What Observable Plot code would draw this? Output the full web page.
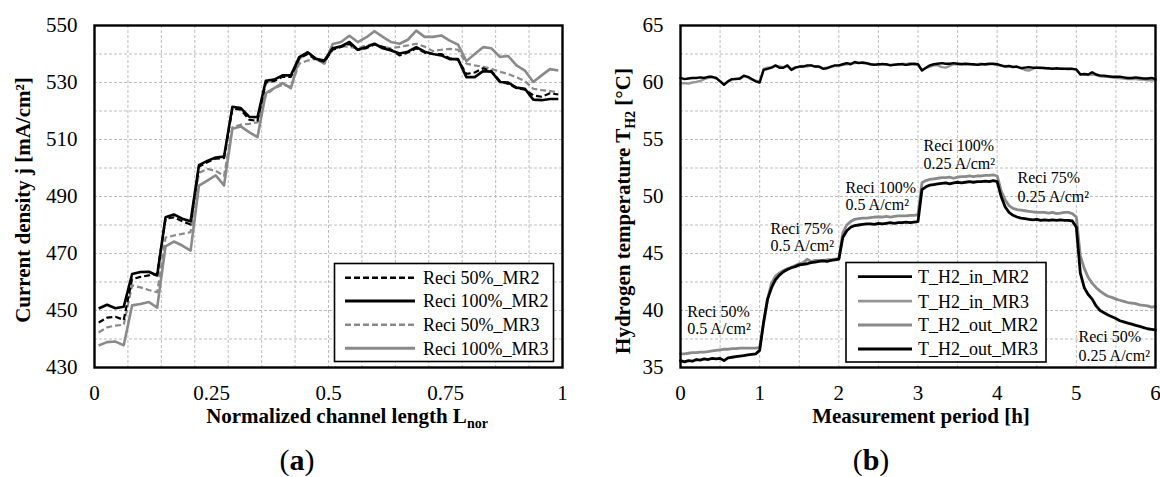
<!DOCTYPE html>
<html><head><meta charset="utf-8">
<script src="https://cdn.jsdelivr.net/npm/d3@7"></script>
<script src="https://cdn.jsdelivr.net/npm/@observablehq/plot@0.6"></script>
<style>
body{margin:0;background:#fff;}
#wrap{position:relative;width:1160px;height:477px;overflow:hidden;background:#fff;font-family:"Liberation Serif","Times New Roman",serif;}
.panel{position:absolute;top:0;}
</style></head>
<body><div id="wrap"><div id="pa" class="panel" style="left:0"></div><div id="pb" class="panel" style="left:580px"></div></div>
<script>
// ---------- Panel (a): current density along the channel ----------
const segmentsA = 14;           // channel cells (one per vertical grid line)
const pointsPerSegment = 4;
const channelPos = d3.range(segmentsA * pointsPerSegment).map(i => (i + 0.5) / (segmentsA * pointsPerSegment));

const reci50_MR2 = [
  445.8, 447.5, 447.8, 446.7,  461.0, 461.8, 462.3, 462.8,  482.2, 482.7, 481.3, 480.2,
  500.5, 502.0, 503.3, 503.5,  520.8, 520.5, 517.0, 516.5,  530.0, 530.5, 532.0, 532.0,
  538.5, 540.0, 538.0, 537.3,  541.5, 542.5, 543.5, 541.5,  542.0, 543.4, 542.5, 541.5,
  539.5, 540.5, 542.0, 540.5,  540.0, 540.0, 538.5, 538.0,  533.0, 533.5, 535.0, 534.0,
  530.5, 529.5, 528.0, 527.5,  525.5, 525.0, 526.2, 525.8];
const reci100_MR2 = [
  450.7, 452.0, 450.8, 451.3,  462.8, 463.5, 463.6, 462.3,  482.7, 483.7, 482.2, 481.3,
  501.0, 502.5, 503.7, 504.0,  521.5, 521.0, 518.0, 517.8,  530.6, 531.0, 532.5, 532.5,
  538.9, 540.6, 538.3, 537.7,  542.0, 542.7, 544.2, 541.5,  542.4, 543.6, 542.0, 541.2,
  540.2, 540.8, 542.4, 540.8,  540.0, 539.5, 538.2, 538.2,  531.9, 531.9, 534.0, 533.8,
  530.2, 530.0, 528.2, 527.8,  524.0, 523.8, 524.2, 524.2];
const reci50_MR3 = [
  442.3, 444.1, 444.7, 445.0,  458.8, 458.1, 457.2, 456.4,  475.6, 476.3, 476.9, 477.5,
  498.3, 499.7, 499.0, 497.2,  514.3, 515.2, 515.5, 516.0,  525.5, 528.0, 529.2, 528.5,
  536.6, 537.7, 538.3, 537.5,  541.5, 542.8, 542.5, 542.0,  543.0, 543.5, 542.5, 542.0,
  542.5, 543.0, 543.6, 542.6,  541.0, 541.5, 541.8, 541.5,  536.6, 536.0, 535.5, 534.8,
  533.8, 533.0, 531.8, 530.5,  527.8, 527.3, 527.0, 526.6];
const reci100_MR3 = [
  437.7, 438.9, 439.1, 437.8,  451.8, 452.3, 453.0, 451.0,  472.5, 474.2, 472.8, 471.0,
  493.8, 495.6, 497.4, 493.9,  513.8, 514.6, 512.6, 510.8,  526.3, 528.0, 529.8, 528.0,
  538.3, 540.6, 538.3, 536.6,  543.5, 544.2, 546.4, 544.2,  545.8, 548.0, 546.0, 544.2,
  543.6, 545.0, 548.2, 546.0,  546.0, 546.5, 544.7, 543.3,  537.5, 540.0, 542.4, 542.0,
  539.0, 539.3, 536.0, 534.2,  530.2, 532.5, 534.7, 534.2];

const xTicksA = [0, 0.25, 0.5, 0.75, 1];
const yTicksA = [430, 450, 470, 490, 510, 530, 550];
const xGridA = d3.range(1, segmentsA).map(k => k / segmentsA);
const yGridA = [440, 450, 460, 470, 480, 490, 500, 510, 520, 530, 540];

// ---------- Panel (b): hydrogen temperatures over time ----------
const timeStep = 0.05; // h
const timeB = d3.range(0, 121).map(i => +(i * timeStep).toFixed(2));

const T_H2_in_MR2 = [
  60.4, 60.3, 60.35, 60.4, 60.4, 60.45, 60.4, 60.5, 60.5, 60.4, 60.1, 59.8, 60.1, 60.3, 60.3, 60.35, 60.6, 60.5, 60.3, 60.1,
  60.0, 61.1, 61.2, 61.3, 61.5, 61.3, 61.3, 61.5, 61.1, 61.3, 61.4, 61.4, 61.5, 61.5, 61.4, 61.4, 61.2, 61.25, 61.4, 61.5,
  61.5, 61.6, 61.7, 61.6, 61.8, 61.7, 61.75, 61.7, 61.6, 61.55, 61.6, 61.6, 61.6, 61.5, 61.55, 61.6, 61.6, 61.55, 61.6, 61.65,
  61.6, 61.05, 61.3, 61.5, 61.6, 61.65, 61.7, 61.65, 61.65, 61.7, 61.65, 61.6, 61.65, 61.6, 61.6, 61.55, 61.6, 61.6, 61.65, 61.65,
  61.6, 61.5, 61.4, 61.45, 61.35, 61.4, 61.25, 61.3, 61.35, 61.3, 61.3, 61.3, 61.25, 61.25, 61.2, 61.25, 61.2, 61.2, 61.2, 61.2,
  61.15, 60.7, 60.75, 60.7, 60.9, 60.7, 60.6, 60.6, 60.55, 60.5, 60.5, 60.5, 60.45, 60.4, 60.4, 60.45, 60.4, 60.35, 60.35, 60.4,
  60.3];
const T_H2_in_MR3 = [
  59.9, 59.95, 59.9, 60.0, 60.05, 60.15, 60.3, 60.4, 60.45, 60.35, 60.15, 59.85, 60.1, 60.25, 60.35, 60.3, 60.55, 60.45, 60.25, 60.15,
  60.1, 61.2, 61.3, 61.35, 61.45, 61.4, 61.35, 61.45, 61.2, 61.35, 61.35, 61.45, 61.4, 61.5, 61.4, 61.35, 61.25, 61.3, 61.35, 61.45,
  61.45, 61.55, 61.6, 61.65, 61.7, 61.75, 61.7, 61.65, 61.6, 61.6, 61.55, 61.65, 61.55, 61.55, 61.6, 61.55, 61.65, 61.6, 61.7, 61.6,
  61.55, 61.1, 61.25, 61.4, 61.5, 61.5, 61.35, 61.3, 61.45, 61.6, 61.6, 61.65, 61.6, 61.65, 61.55, 61.6, 61.65, 61.55, 61.6, 61.6,
  61.55, 61.45, 61.45, 61.4, 61.4, 61.35, 61.3, 61.1, 61.05, 61.2, 61.3, 61.25, 61.3, 61.2, 61.25, 61.2, 61.25, 61.2, 61.15, 61.2,
  61.1, 60.75, 60.7, 60.65, 60.7, 60.65, 60.55, 60.5, 60.5, 60.45, 60.4, 60.4, 60.35, 60.3, 60.3, 60.3, 60.25, 60.25, 60.2, 60.2,
  60.2];
const T_H2_out_MR2 = [
  36.2, 36.2, 36.25, 36.3, 36.3, 36.35, 36.35, 36.4, 36.45, 36.5, 36.55, 36.6, 36.6, 36.65, 36.65, 36.7, 36.7, 36.7, 36.7, 36.7,
  36.75, 38.9, 41.0, 42.4, 43.0, 43.3, 43.5, 43.65, 43.8, 43.95, 44.1, 44.2, 44.5, 44.3, 44.4, 44.4, 44.4, 44.45, 44.45, 44.5,
  44.55, 46.8, 47.5, 47.8, 48.0, 48.05, 48.1, 48.1, 48.15, 48.2, 48.2, 48.2, 48.25, 48.2, 48.25, 48.3, 48.3, 48.3, 48.35, 48.35,
  48.4, 51.2, 51.4, 51.5, 51.55, 51.6, 51.65, 51.65, 51.7, 51.6, 51.7, 51.75, 51.75, 51.8, 51.75, 51.8, 51.8, 51.85, 51.85, 51.9,
  51.8, 50.5, 49.7, 49.2, 48.95, 48.85, 48.8, 48.75, 48.7, 48.65, 48.6, 48.6, 48.6, 48.55, 48.6, 48.5, 48.55, 48.6, 48.6, 48.5,
  48.2, 44.8, 43.7, 42.9, 42.4, 42.0, 41.7, 41.45, 41.25, 41.15, 41.0, 40.9, 40.8, 40.7, 40.65, 40.6, 40.5, 40.45, 40.4, 40.3,
  40.35];
const T_H2_out_MR3 = [
  35.6, 35.5, 35.6, 35.55, 35.7, 35.65, 35.75, 35.7, 35.8, 35.75, 35.8, 35.6, 35.85, 35.9, 35.95, 36.0, 36.05, 36.1, 36.15, 36.2,
  36.5, 39.0, 41.0, 42.0, 42.7, 43.1, 43.4, 43.6, 43.75, 43.85, 44.0, 44.05, 44.1, 44.2, 44.25, 44.3, 44.35, 44.3, 44.4, 44.45,
  44.5, 46.4, 47.0, 47.3, 47.45, 47.5, 47.55, 47.6, 47.6, 47.55, 47.65, 47.6, 47.65, 47.7, 47.65, 47.7, 47.7, 47.75, 47.7, 47.75,
  47.8, 50.6, 50.85, 51.0, 51.05, 51.1, 51.15, 51.2, 51.1, 51.2, 51.25, 51.2, 51.25, 51.3, 51.25, 51.3, 51.3, 51.35, 51.3, 51.4,
  51.3, 50.0, 49.1, 48.6, 48.35, 48.2, 48.1, 48.05, 48.0, 47.95, 48.0, 47.9, 47.95, 47.9, 47.95, 47.9, 47.95, 47.9, 47.9, 47.85,
  47.3, 43.3, 42.0, 41.4, 41.0, 40.4, 40.0, 39.8, 39.6, 39.45, 39.3, 39.1, 39.0, 38.9, 38.8, 38.7, 38.6, 38.5, 38.4, 38.35,
  38.3];

const xTicksB = [0, 1, 2, 3, 4, 5, 6];
const yTicksB = [35, 40, 45, 50, 55, 60, 65];
const xGridB = [0.5, 1, 1.5, 2, 2.5, 3, 3.5, 4, 4.5, 5, 5.5];
const yGridB = [37.5, 40, 42.5, 45, 47.5, 50, 52.5, 55, 57.5, 60, 62.5];

const annotLine1 = ["Reci 50%", "Reci 75%", "Reci 100%", "Reci 100%", "Reci 75%", "Reci 50%"];
const annotLine2 = ["0.5 A/cm²", "0.5 A/cm²", "0.5 A/cm²", "0.25 A/cm²", "0.25 A/cm²", "0.25 A/cm²"];
const annotT = [0.085, 1.137, 2.084, 3.07, 4.257, 5.027];
const annotY1 = [39.9, 47.2, 50.8, 54.45, 51.6, 37.65];
const annotY2 = [38.4, 45.7, 49.3, 52.9, 49.95, 36.05];

// ---------- shared ----------
const FONT = "Liberation Serif, Times New Roman, serif";
const GRID = {stroke: "#bdbdbd", strokeWidth: 1, strokeDasharray: "3,2", strokeOpacity: 1};
const GRAY = "#8a8a8a";

function rows(xs, ys) { return ys.map((v, i) => ({x: xs[i], y: v})); }

// ---------- build panel (a) ----------
const seriesA = [
  {name: "Reci 50%_MR2", values: reci50_MR2, stroke: "#000", width: 2.2, dash: "6,3"},
  {name: "Reci 100%_MR2", values: reci100_MR2, stroke: "#000", width: 2.6, dash: null},
  {name: "Reci 50%_MR3", values: reci50_MR3, stroke: GRAY, width: 2.2, dash: "6,3"},
  {name: "Reci 100%_MR3", values: reci100_MR3, stroke: GRAY, width: 2.6, dash: null}
];
const drawOrderA = [3, 2, 0, 1];

const plotA = Plot.plot({
  width: 580, height: 477,
  marginLeft: 94, marginRight: 18, marginTop: 25, marginBottom: 110,
  style: {fontFamily: FONT, fontSize: "21px", color: "#000", background: "transparent", overflow: "visible"},
  x: {domain: [0, 1]},
  y: {domain: [430, 550]},
  marks: [
    Plot.ruleX(xGridA, GRID),
    Plot.ruleY(yGridA, GRID),
    ...drawOrderA.map(k => {
      const s = seriesA[k];
      return Plot.line(rows(channelPos, s.values), {x: "x", y: "y", stroke: s.stroke, strokeWidth: s.width,
        strokeDasharray: s.dash || undefined, strokeLinejoin: "round", strokeLinecap: "butt"});
    }),
    Plot.frame({stroke: "#000", strokeWidth: 2.4}),
    Plot.axisX({ticks: xTicksA, tickSize: 0, tickPadding: 18, fontSize: 21, label: null, tickFormat: d => String(d)}),
    Plot.axisY({ticks: yTicksA, tickSize: 0, tickPadding: 17, fontSize: 21, label: null, tickFormat: d => String(d)})
  ]
});
document.getElementById("pa").appendChild(plotA);

// ---------- build panel (b) ----------
const seriesB = [
  {name: "T_H2_in_MR2", values: T_H2_in_MR2, stroke: "#000", width: 2.4},
  {name: "T_H2_in_MR3", values: T_H2_in_MR3, stroke: "#969696", width: 2.4},
  {name: "T_H2_out_MR2", values: T_H2_out_MR2, stroke: GRAY, width: 2.8},
  {name: "T_H2_out_MR3", values: T_H2_out_MR3, stroke: "#000", width: 2.8}
];
const drawOrderB = [1, 0, 2, 3];
const annots = annotT.flatMap((t, i) => [
  {t, T: annotY1[i], text: annotLine1[i]},
  {t, T: annotY2[i], text: annotLine2[i]}
]);

const plotB = Plot.plot({
  width: 580, height: 477,
  marginLeft: 100, marginRight: 5, marginTop: 25, marginBottom: 110,
  style: {fontFamily: FONT, fontSize: "21px", color: "#000", background: "transparent", overflow: "visible"},
  x: {domain: [0, 6]},
  y: {domain: [35, 65]},
  marks: [
    Plot.ruleX(xGridB, GRID),
    Plot.ruleY(yGridB, GRID),
    ...drawOrderB.map(k => {
      const s = seriesB[k];
      return Plot.line(rows(timeB, s.values), {x: "x", y: "y", stroke: s.stroke, strokeWidth: s.width, strokeLinejoin: "round"});
    }),
    Plot.text(annots, {x: "t", y: "T", text: "text", textAnchor: "start", fontSize: 16, fill: "#000", lineAnchor: "middle"}),
    Plot.frame({stroke: "#000", strokeWidth: 2.4}),
    Plot.axisX({ticks: xTicksB, tickSize: 0, tickPadding: 18, fontSize: 21, label: null, tickFormat: d => String(d)}),
    Plot.axisY({ticks: yTicksB, tickSize: 0, tickPadding: 17, fontSize: 21, label: null, tickFormat: d => String(d)})
  ]
});
document.getElementById("pb").appendChild(plotB);

// ---------- titles, legends, panel labels ----------
function addText(svg, x, y, parts, opts = {}) {
  const t = d3.select(svg).append("text")
    .attr("font-family", FONT).attr("fill", "#000")
    .attr("font-size", opts.size || 21)
    .attr("font-weight", opts.weight || "normal")
    .attr("text-anchor", opts.anchor || "middle");
  if (opts.rotate) t.attr("transform", `translate(${x},${y}) rotate(-90)`).attr("dy", "0.35em");
  else t.attr("x", x).attr("y", y);
  parts.forEach(p => {
    const ts = t.append("tspan").text(p.text);
    if (p.size) ts.attr("font-size", p.size);
    if (p.dy) ts.attr("dy", p.dy);
    if (p.weight) ts.attr("font-weight", p.weight);
  });
  return t;
}

// axis titles (a)
addText(plotA, 347, 423, [{text: "Normalized channel length L"}, {text: "nor", size: 14, dy: 5}], {weight: "bold"});
addText(plotA, 23, 200, [{text: "Current density j [mA/cm²]"}], {weight: "bold", rotate: true});
// axis titles (b)
addText(plotB, 341, 423, [{text: "Measurement period [h]"}], {weight: "bold"});
addText(plotB, 43, 211, [{text: "Hydrogen temperature T"}, {text: "H2", size: 14, dy: 5}, {text: " [°C]", dy: -5}], {weight: "bold", rotate: true});
// panel labels
addText(plotA, 297, 470, [{text: "("}, {text: "a", weight: "bold"}, {text: ")"}], {size: 30});
addText(plotB, 291, 470, [{text: "("}, {text: "b", weight: "bold"}, {text: ")"}], {size: 30});

function legend(svg, box, lineX, textX, rowsY, items) {
  const g = d3.select(svg).append("g");
  g.append("rect").attr("x", box[0]).attr("y", box[1]).attr("width", box[2]).attr("height", box[3])
    .attr("fill", "#fff").attr("stroke", "#000").attr("stroke-width", 1.6);
  items.forEach((s, i) => {
    g.append("line").attr("x1", lineX[0]).attr("x2", lineX[1]).attr("y1", rowsY[i]).attr("y2", rowsY[i])
      .attr("stroke", s.stroke).attr("stroke-width", s.width + 0.3)
      .attr("stroke-dasharray", s.dash || null);
    g.append("text").attr("x", textX).attr("y", rowsY[i]).attr("dy", "0.35em")
      .attr("text-anchor", "start")
      .attr("font-family", FONT).attr("font-size", 18).attr("fill", "#000").text(s.name);
  });
}
legend(plotA, [334.5, 263.5, 219, 98], [345, 415], 423, [277.7, 301, 324.7, 348.3], seriesA);
legend(plotB, [266, 262.5, 200, 99.5], [278, 332], 338, [276.7, 301.2, 325, 349], seriesB);
</script>
</body></html>
